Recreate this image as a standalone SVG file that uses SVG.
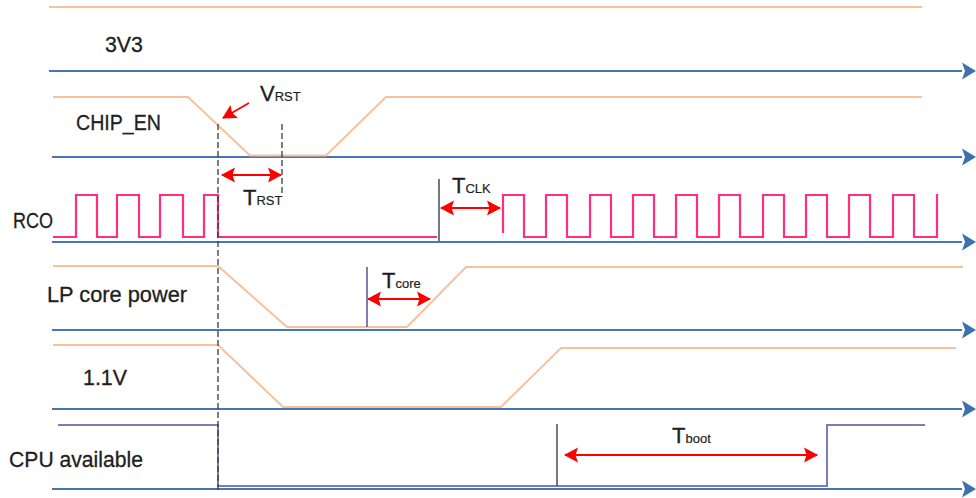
<svg xmlns="http://www.w3.org/2000/svg" width="976" height="498" viewBox="0 0 976 498">
<defs>
<marker id="ax" markerUnits="userSpaceOnUse" markerWidth="16" markerHeight="18" refX="0" refY="8.5" orient="auto" overflow="visible">
<path d="M0,0 L14,8.5 L0,17 L3,8.5 z" fill="#3d72ad"/>
</marker>
<marker id="rh" markerUnits="userSpaceOnUse" markerWidth="16" markerHeight="16" refX="13" refY="7.5" orient="auto-start-reverse" overflow="visible">
<path d="M0,0 L14,7.5 L0,15 L2.5,7.5 z" fill="#ff0000"/>
</marker>
</defs>
<style>
.axis{stroke:#4677b3;stroke-width:2;fill:none}
.sig{stroke:#f7c29b;stroke-width:2;fill:none}
.rco{stroke:#ff2f7d;stroke-width:2.2;fill:none}
.cpu{stroke:#7e7cb6;stroke-width:2;fill:none}
.dash{stroke:#3a3a3a;stroke-width:1.3;stroke-dasharray:6 3;fill:none}
.mark{stroke:#4a4a55;stroke-width:1.5;fill:none}
.dim{stroke:#ff0000;stroke-width:1.8;fill:none}
.lbl{font-family:"Liberation Sans",Arial,sans-serif;font-size:22px;fill:#1e1e1e;stroke:#1e1e1e;stroke-width:0.3}
.big{font-family:"Liberation Sans",Arial,sans-serif;font-size:22px;fill:#1e1e1e;stroke:#1e1e1e;stroke-width:0.3}
.sub{font-family:"Liberation Sans",Arial,sans-serif;font-size:13px;fill:#1e1e1e;stroke:#1e1e1e;stroke-width:0.2}
</style>
<rect width="976" height="498" fill="#ffffff"/>

<g id="axes">
<line class="axis" x1="49" y1="71" x2="962" y2="71" marker-end="url(#ax)"/>
<line class="axis" x1="52" y1="157" x2="962" y2="157" marker-end="url(#ax)"/>
<line class="axis" x1="52" y1="242" x2="962" y2="242" marker-end="url(#ax)"/>
<line class="axis" x1="52" y1="330" x2="962" y2="330" marker-end="url(#ax)"/>
<line class="axis" x1="52" y1="409" x2="962" y2="409" marker-end="url(#ax)"/>
<line class="axis" x1="52" y1="489" x2="962" y2="489" marker-end="url(#ax)"/>
</g>

<g id="sig-3v3">
<line class="sig" x1="49" y1="7" x2="922" y2="7"/>
<text class="lbl" x="105" y="52" textLength="38" lengthAdjust="spacingAndGlyphs">3V3</text>
</g>

<g id="sig-chip-en">
<polyline class="sig" points="53,97 188,97 250,155.5 326,155.5 386,97 922,97"/>
<text class="lbl" x="76" y="130" textLength="85" lengthAdjust="spacingAndGlyphs">CHIP_EN</text>
</g>

<g id="sig-rco">
<polyline class="rco" points="53,237 76,237 76,195 97,195 97,237 117,237 117,195 139,195 139,237 160,237 160,195 183,195 183,237 204,237 204,195 218,195 218,237 437,237"/>
<polyline class="rco" points="503,233 503,195 524,195 524,237 546,237 546,195 567,195 567,237 590,237 590,195 611,195 611,237 633,237 633,195 654,195 654,237 676,237 676,195 697,195 697,237 719,237 719,195 740,195 740,237 763,237 763,195 784,195 784,237 806,237 806,195 827,195 827,237 849,237 849,195 870,195 870,237 893,237 893,195 914,195 914,237 937,237 937,194"/>
<text class="lbl" x="13" y="228" textLength="40" lengthAdjust="spacingAndGlyphs">RCO</text>
</g>

<g id="sig-lp-core">
<polyline class="sig" points="53,266 218,266 287,327 407,327 466,267 963,267"/>
<text class="lbl" x="47" y="302" textLength="140" lengthAdjust="spacingAndGlyphs">LP core power</text>
</g>

<g id="sig-1v1">
<polyline class="sig" points="53,345 218,345 283,407 501,407 561,348 956,348"/>
<text class="lbl" x="83" y="385" textLength="44" lengthAdjust="spacingAndGlyphs">1.1V</text>
</g>

<g id="sig-cpu">
<polyline class="cpu" points="58,425 218,425 218,486 827,486 827,425 925,425"/>
<text class="lbl" x="9" y="467" textLength="134" lengthAdjust="spacingAndGlyphs">CPU available</text>
</g>

<g id="connectors">
<line class="dash" x1="218" y1="124" x2="218" y2="492"/>
<line class="dash" x1="282" y1="124" x2="282" y2="193"/>
<line class="mark" x1="439" y1="179" x2="439" y2="241"/>
<line class="mark" x1="367" y1="267" x2="367" y2="327" style="stroke:#55558a"/>
<line class="mark" x1="557" y1="424" x2="557" y2="486"/>
<line class="dim" x1="249" y1="103" x2="223" y2="118" marker-end="url(#rh)"/>
<line class="dim" x1="222" y1="175" x2="281" y2="175" marker-start="url(#rh)" marker-end="url(#rh)"/>
<line class="dim" x1="441" y1="208" x2="500" y2="208" marker-start="url(#rh)" marker-end="url(#rh)"/>
<line class="dim" x1="368" y1="299" x2="430" y2="299" marker-start="url(#rh)" marker-end="url(#rh)"/>
<line class="dim" x1="565" y1="455" x2="817" y2="455" marker-start="url(#rh)" marker-end="url(#rh)"/>
</g>

<g id="dim-labels">
<text x="260" y="101"><tspan class="big">V</tspan><tspan class="sub">RST</tspan></text>
<text x="243" y="205"><tspan class="big">T</tspan><tspan class="sub">RST</tspan></text>
<text x="452" y="193"><tspan class="big">T</tspan><tspan class="sub">CLK</tspan></text>
<text x="382" y="288"><tspan class="big">T</tspan><tspan class="sub">core</tspan></text>
<text x="672" y="443"><tspan class="big">T</tspan><tspan class="sub">boot</tspan></text>
</g>
</svg>
